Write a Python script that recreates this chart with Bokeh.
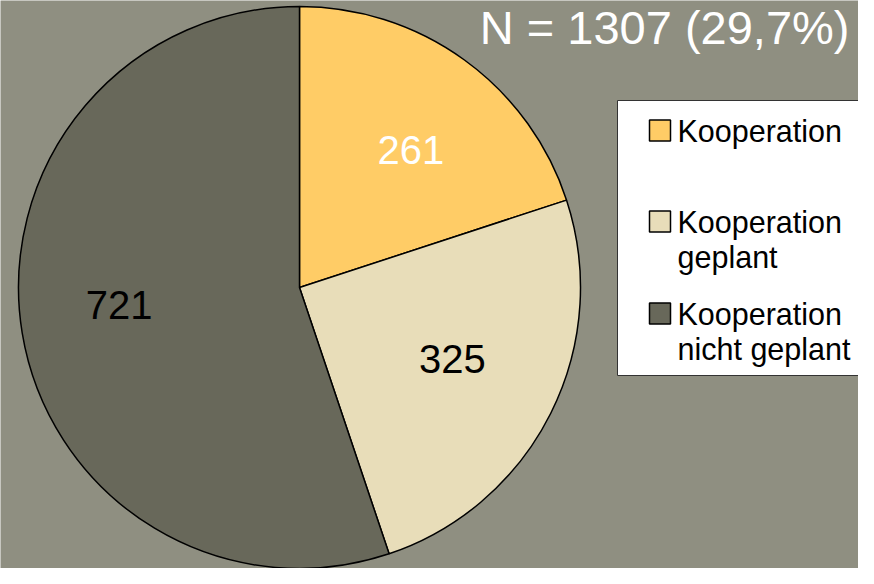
import math
from bokeh.plotting import figure
from bokeh.models import Range1d, ColumnDataSource
from bokeh.core.properties import value
from bokeh.embed import file_html
from bokeh.resources import INLINE

# ---- data ----
categories = ["Kooperation", "Kooperation\ngeplant", "Kooperation\nnicht geplant"]
counts = [261, 325, 721]
colors = ["#ffcc66", "#e8ddb9", "#68685a"]
label_colors = ["white", "black", "black"]
title_text = "N = 1307 (29,7%)"

# ---- layout ----
W, H = 858, 568
BG = "#8f8f81"
FONT = "Liberation Sans"
cx, cy, R = 299, 281, 281
label_angle_deg = [51, -25, 185.5]
label_r_frac = [0.63, 0.6, 0.645]

p = figure(width=W, height=H, x_range=Range1d(0, W), y_range=Range1d(0, H),
           output_backend="svg", toolbar_location=None, min_border=0)
p.axis.visible = False
p.grid.visible = False
p.outline_line_color = None
p.background_fill_color = BG
p.border_fill_color = BG

total = sum(counts)
starts, ends = [], []
cum = 0
for c in counts:
    a0 = math.pi / 2 - 2 * math.pi * cum / total
    cum += c
    a1 = math.pi / 2 - 2 * math.pi * cum / total
    starts.append(a1)
    ends.append(a0)

src = ColumnDataSource(dict(start=starts, end=ends, color=colors))
p.wedge(x=cx, y=cy, radius=R, start_angle="start", end_angle="end",
        fill_color="color", line_color="black", line_width=1.5, source=src)

# slice labels
lx = [cx + f * R * math.cos(math.radians(a)) for a, f in zip(label_angle_deg, label_r_frac)]
ly = [cy + f * R * math.sin(math.radians(a)) for a, f in zip(label_angle_deg, label_r_frac)]
p.text(x=lx, y=ly, text=[str(c) for c in counts], text_color=label_colors,
       text_font=value(FONT), text_font_size="40px", text_align="center",
       text_baseline="middle")

# title
p.text(x=[849], y=[541], text=[title_text], text_color="white",
       text_font=value(FONT), text_font_size="47px", text_align="right",
       text_baseline="middle")

# legend
p.quad(left=[617], right=[890], top=[468], bottom=[193], fill_color="white",
       line_color="#333333", line_width=1)
item_y = [438, 347, 255]
line_h = 35
p.rect(x=[659.5] * 3, y=item_y, width=21, height=21, fill_color=colors,
       line_color="black", line_width=1.5)
tx, ty, tt = [], [], []
for lab, y in zip(categories, item_y):
    for i, line in enumerate(lab.split("\n")):
        tx.append(677)
        ty.append(y - i * line_h)
        tt.append(line)
p.text(x=tx, y=ty, text=tt, text_color="black", text_font=value(FONT),
       text_font_size="30.5px", text_align="left", text_baseline="middle")

open("out.html", "w").write(file_html(p, INLINE))
